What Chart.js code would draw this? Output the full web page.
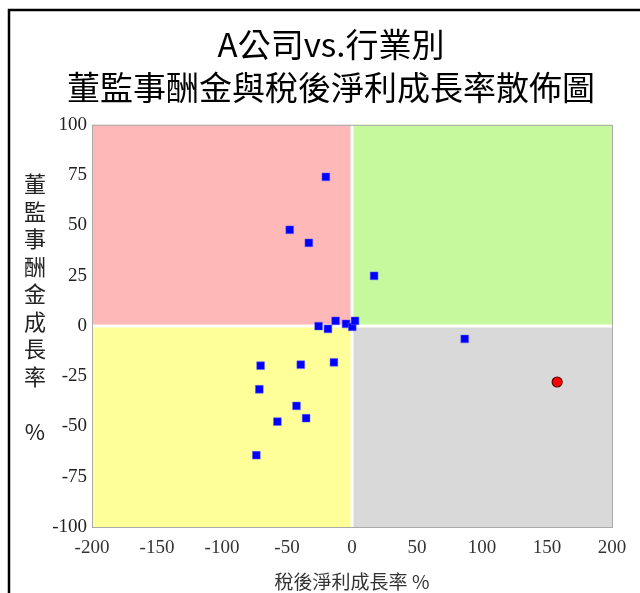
<!DOCTYPE html>
<html>
<head>
<meta charset="utf-8">
<script src="https://cdn.jsdelivr.net/npm/chart.js@4"></script>
<style>
  html, body { margin: 0; padding: 0; background: #fff; }
  #wrap { width: 640px; height: 593px; }
</style>
</head>
<body>
<div id="wrap"><canvas id="myChart" width="640" height="593"></canvas></div>
<script>
var xValues = [-20.1, -47.9, -33.2, 17.0, -25.7, -18.5, -12.6, -4.6, 0.2, 2.3, -70.3, -39.4, -13.9, -71.3, -42.7, -35.3, -57.4, -73.6, 86.7];
var yValues = [74.1, 47.8, 41.3, 24.9, -0.1, -1.5, 2.5, 1.0, -0.5, 2.5, -19.8, -19.3, -18.1, -31.5, -39.8, -45.9, -47.6, -64.3, -6.5];
var companyX = [157.8];
var companyY = [-27.9];
var titleLines = ["A公司vs.行業別", "董監事酬金與稅後淨利成長率散佈圖"];
var yTitleChars = ["董", "監", "事", "酬", "金", "成", "長", "率", "", "%"];
var xTitle = "稅後淨利成長率 %";

var industryPts = xValues.map(function (x, i) { return {x: x, y: yValues[i]}; });
var companyPts = companyX.map(function (x, i) { return {x: x, y: companyY[i]}; });

var tickFont = {family: "'Liberation Serif', 'DejaVu Serif', serif", size: 19};
var cjk = "'Noto Sans CJK TC', 'Noto Sans CJK JP', sans-serif";

// quadrant fills, frame and the stacked y title
var quadrants = {
  id: "quadrants",
  beforeDraw: function (chart) {
    var ctx = chart.ctx, a = chart.chartArea;
    var x0 = chart.scales.x.getPixelForValue(0);
    var y0 = chart.scales.y.getPixelForValue(0);
    ctx.save();
    ctx.fillStyle = "#fff";
    ctx.fillRect(0, 0, chart.width, chart.height);
    ctx.fillStyle = "#FFB8B8"; ctx.fillRect(a.left, a.top, x0 - a.left, y0 - a.top);
    ctx.fillStyle = "#C6F89E"; ctx.fillRect(x0, a.top, a.right - x0, y0 - a.top);
    ctx.fillStyle = "#FFFF99"; ctx.fillRect(a.left, y0, x0 - a.left, a.bottom - y0);
    ctx.fillStyle = "#D9D9D9"; ctx.fillRect(x0, y0, a.right - x0, a.bottom - y0);
    ctx.strokeStyle = "#fff"; ctx.lineWidth = 3;
    ctx.beginPath();
    ctx.moveTo(x0, a.top); ctx.lineTo(x0, a.bottom);
    ctx.moveTo(a.left, y0); ctx.lineTo(a.right, y0);
    ctx.stroke();
    ctx.strokeStyle = "#aaa"; ctx.lineWidth = 1;
    ctx.strokeRect(a.left + 0.5, a.top + 0.5, a.right - a.left, a.bottom - a.top);
    // frame
    ctx.strokeStyle = "#000"; ctx.lineWidth = 2.5;
    ctx.beginPath();
    ctx.moveTo(9, chart.height + 5); ctx.lineTo(9, 10); ctx.lineTo(chart.width + 5, 10);
    ctx.stroke();
    // y title
    ctx.fillStyle = "#222";
    ctx.font = "22px " + cjk;
    ctx.textAlign = "center";
    ctx.textBaseline = "middle";
    yTitleChars.forEach(function (c, i) {
      ctx.fillText(c, 35, 184 + i * 27.5);
    });
    ctx.restore();
  }
};

new Chart("myChart", {
  type: "scatter",
  data: {
    datasets: [{
      data: industryPts,
      pointStyle: "rect",
      pointRadius: 5.5,
      backgroundColor: "#0000FF",
      borderColor: "#6060ff",
      borderWidth: 0.5
    }, {
      data: companyPts,
      pointStyle: "circle",
      pointRadius: 5,
      backgroundColor: "#FF0000",
      borderColor: "#600000",
      borderWidth: 1.2
    }]
  },
  options: {
    responsive: false,
    animation: false,
    layout: {padding: {left: 50, right: 28, top: 0, bottom: 0}},
    plugins: {
      legend: {display: false},
      tooltip: {enabled: false},
      title: {
        display: true,
        text: titleLines,
        color: "#000",
        font: {family: cjk, size: 33, weight: "normal", lineHeight: 1.3},
        padding: {top: 23, bottom: 16}
      }
    },
    scales: {
      x: {
        type: "linear",
        min: -200, max: 200,
        afterFit: function (s) { s.height = 66; },
        grid: {display: false, drawTicks: false},
        border: {display: false},
        ticks: {stepSize: 50, color: "#333", font: tickFont, padding: 10, maxRotation: 0},
        title: {display: true, text: xTitle, color: "#333",
                font: {family: cjk, size: 19}, padding: {top: 0, bottom: 0}}
      },
      y: {
        type: "linear",
        min: -100, max: 100,
        afterFit: function (s) { s.width = 42; },
        grid: {display: false, drawTicks: false},
        border: {display: false},
        ticks: {stepSize: 25, color: "#222", font: tickFont, padding: 5}
      }
    }
  },
  plugins: [quadrants]
});
</script>
</body>
</html>
